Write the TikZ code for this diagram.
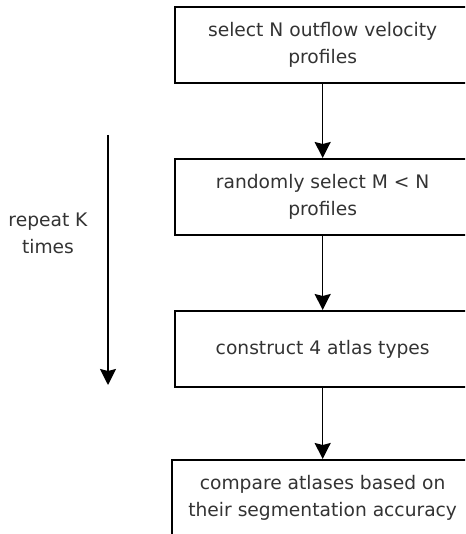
\documentclass[tikz,border=0pt]{standalone}
\usepackage{fontspec}
\setmainfont{DejaVu Sans}
\usetikzlibrary{positioning,arrows.meta}
\tikzset{every picture/.style={line width=0.75pt}}
\tikzset{
  stepbox/.style={draw=black, line width=1.5pt, fill=white, text=black!80,
    minimum width=230pt, minimum height=57pt, align=center,
    font=\fontsize{14}{20.5}\selectfont},
  flow/.style={-{Stealth[length=12pt,width=12pt,inset=1.5pt]}, line width=1.2pt}
}
% shift text a bit left inside the (wider) boxes
\newcommand{\lft}{\hspace*{-8pt}}

\begin{document}
\begin{tikzpicture}[x=0.75pt,y=0.75pt,yscale=-1, node distance=55.5pt]
		\useasboundingbox (0,0) rectangle (465,534);
		\clip (0,0) rectangle (465,534);
		
		%Shape: Boxes
		\node [stepbox] (select) at (328,45) {\lft select N outflow velocity\\\lft profiles};
		\node [stepbox, below=of select] (random) {\lft randomly select M < N\\\lft profiles};
		\node [stepbox, below=of random] (atlas) {\lft construct 4 atlas types};
		\node [stepbox, below=53.25pt of atlas, minimum width=234pt, minimum height=72pt] (compare) {\lft compare atlases based on\\\lft their segmentation accuracy\\[-2pt]\mbox{}};
		
		%Straight Lines
		\draw [flow] ([xshift=-4pt]select.south) -- ([xshift=-4pt]random.north);
		\draw [flow] ([xshift=-4pt]random.south) -- ([xshift=-4pt]atlas.north);
		\draw [flow] ([xshift=-4pt]atlas.south) -- ([xshift=-4pt]compare.north);
		
		%Straight Lines: repeat
		\coordinate (rtop) at (108,135);
		\coordinate (rbot) at (108,385);
		\draw [flow] (rtop) -- (rbot);
		
		% Text Node
		\node [align=center, text=black!80, font=\fontsize{14}{20.5}\selectfont] (repeat) at (48,233) {repeat K\\times};
\end{tikzpicture}
\end{document}
